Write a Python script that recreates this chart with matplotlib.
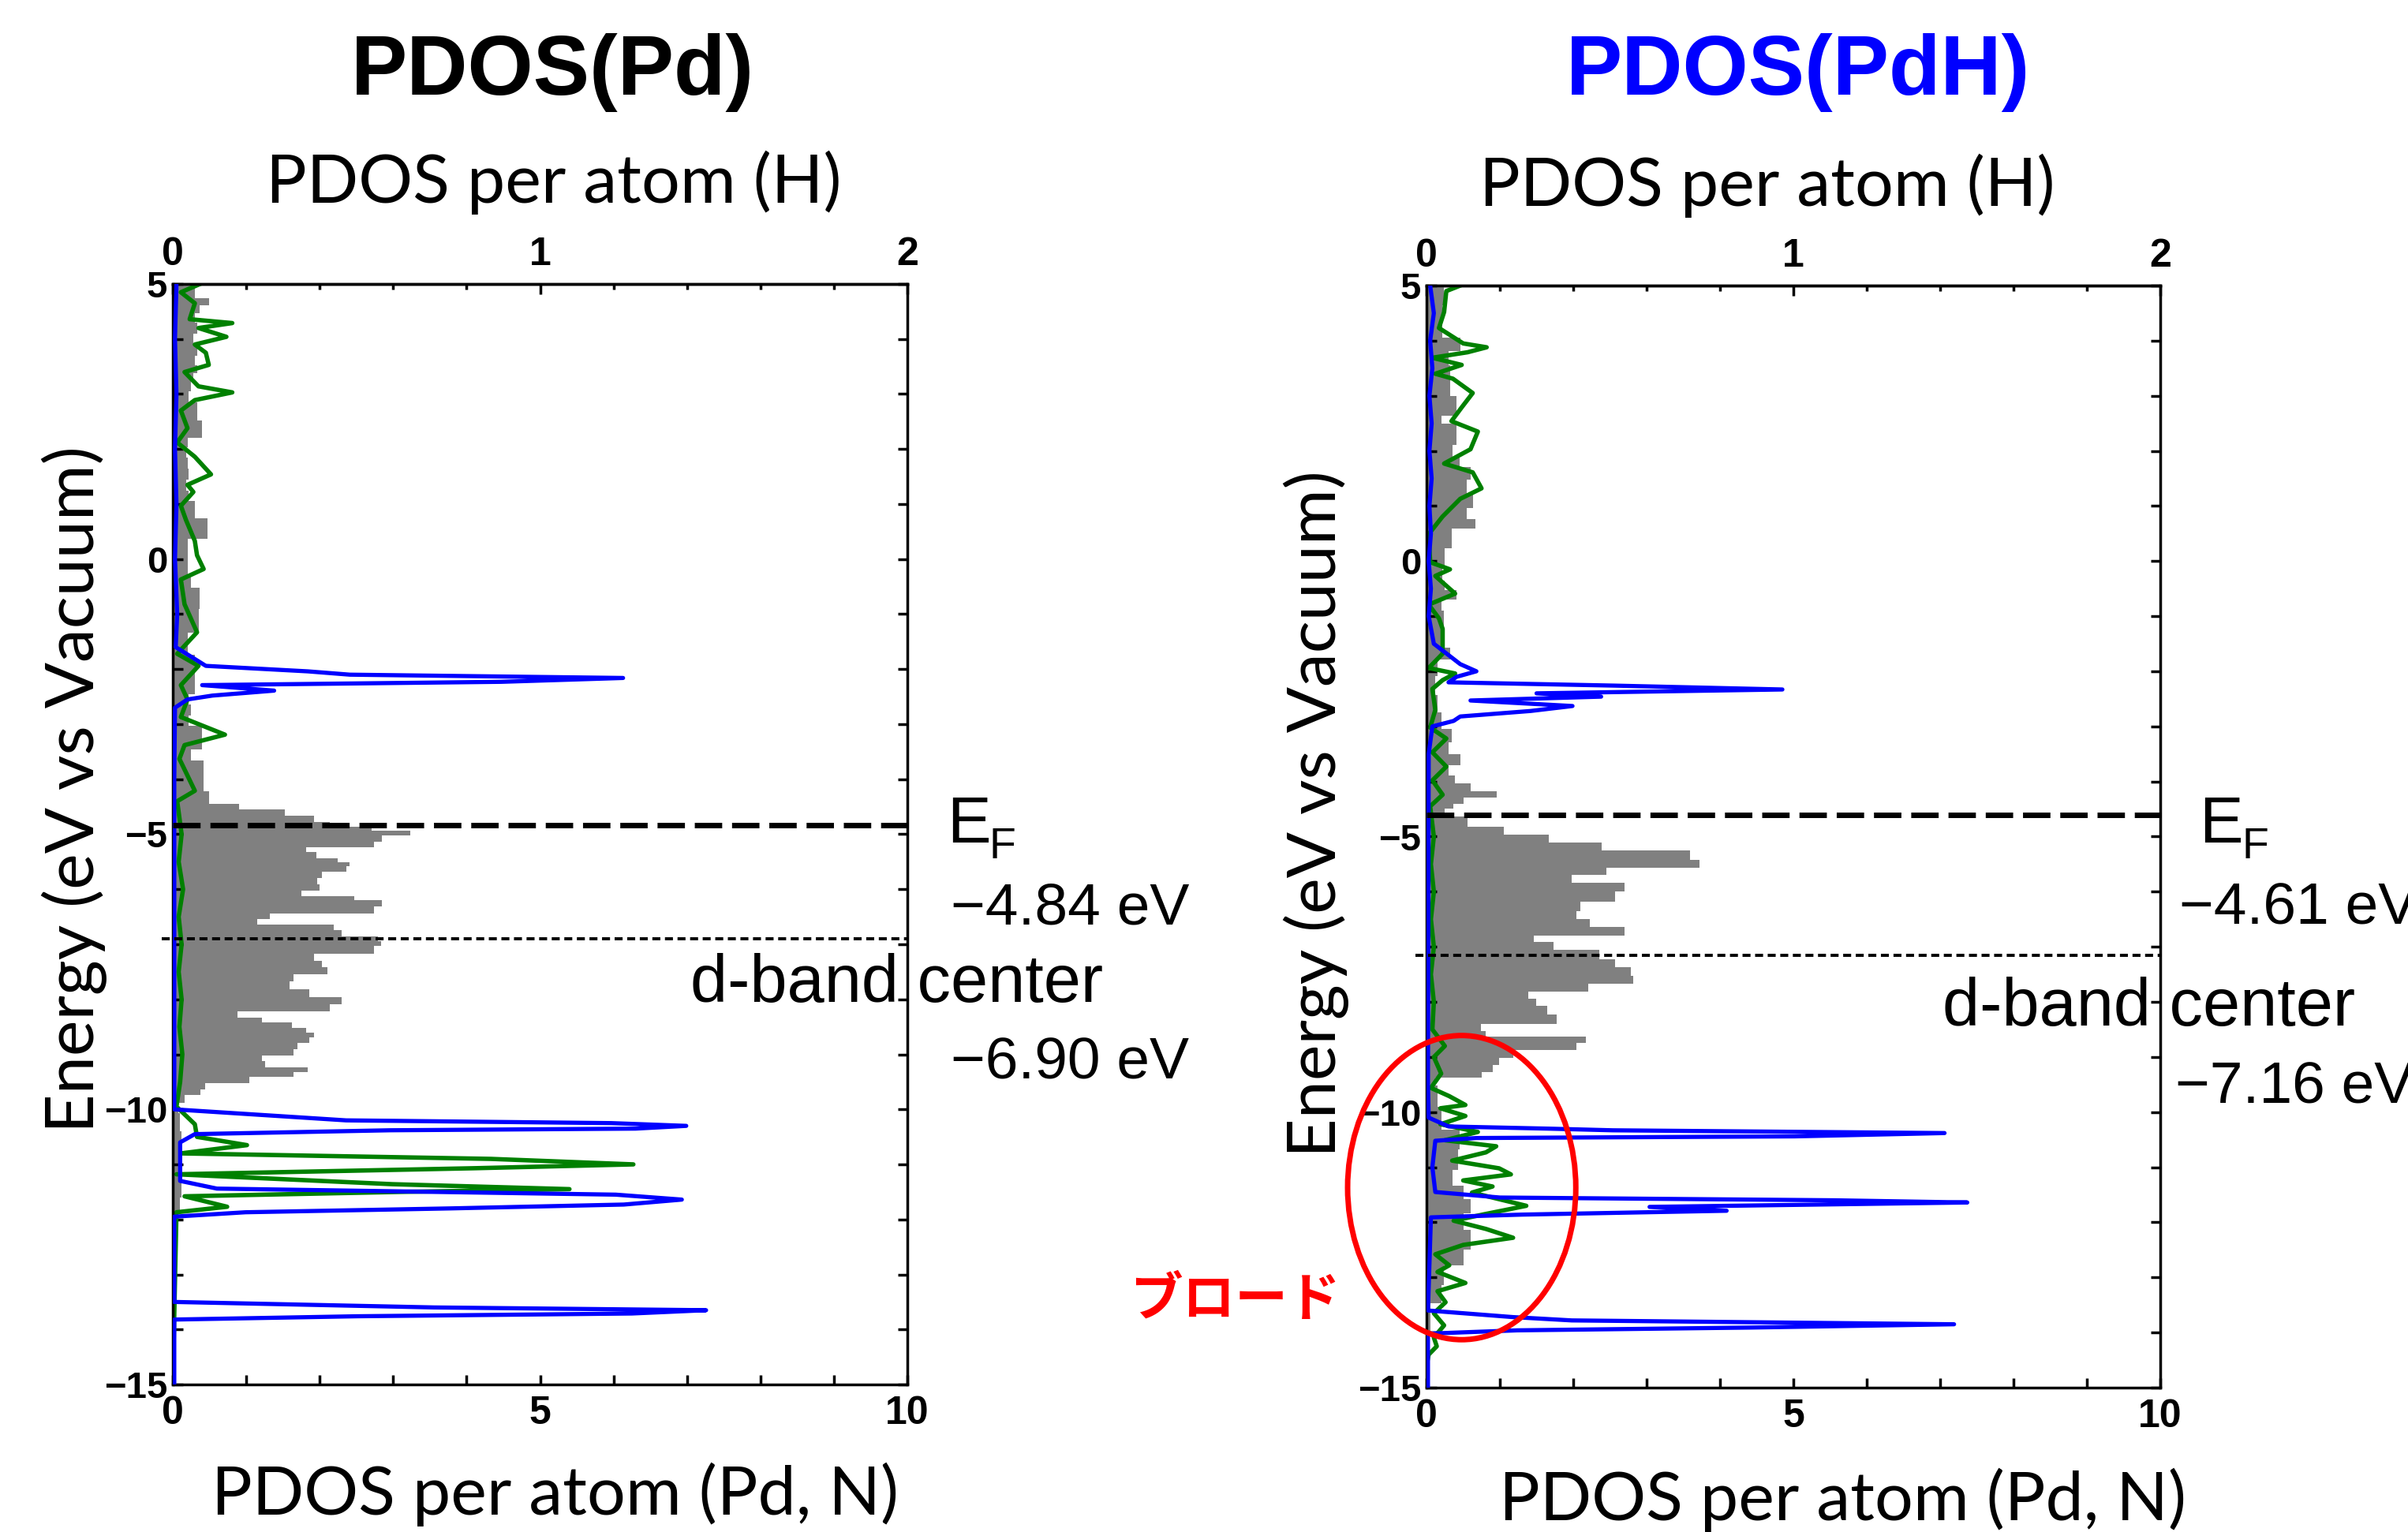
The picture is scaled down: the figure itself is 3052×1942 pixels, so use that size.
import numpy as np
import matplotlib
matplotlib.use('Agg')
import matplotlib.pyplot as plt
from matplotlib.patches import Ellipse
from matplotlib.ticker import MultipleLocator

plt.rcParams['font.family'] = ['Liberation Sans', 'DejaVu Sans']

W, H = 3052, 1942

# ---- Pd panel: (energy eV, PDOS) ----
pd_gray = [(5.0, 0.3), (4.8, 0.3), (4.68, 0.49), (4.55, 0.37), (4.4, 0.3), (4.2, 0.33), (4.0, 0.28),
           (3.8, 0.33), (3.6, 0.3), (3.46, 0.33), (3.3, 0.28), (3.14, 0.25), (2.95, 0.22), (2.76, 0.33),
           (2.6, 0.33), (2.45, 0.4), (2.3, 0.4), (2.12, 0.2), (1.95, 0.18), (1.74, 0.2), (1.55, 0.22),
           (1.35, 0.18), (1.15, 0.22), (0.97, 0.3), (0.84, 0.3), (0.65, 0.47), (0.46, 0.47), (0.27, 0.2),
           (0.0, 0.2), (-0.18, 0.2), (-0.4, 0.25), (-0.63, 0.37), (-0.82, 0.37), (-1.0, 0.35), (-1.27, 0.35),
           (-1.4, 0.2), (-1.65, 0.2), (-1.84, 0.3), (-2.1, 0.3), (-2.35, 0.3), (-2.55, 0.22), (-2.74, 0.25),
           (-2.95, 0.22), (-3.12, 0.4), (-3.38, 0.4), (-3.55, 0.25), (-3.76, 0.42), (-4.15, 0.42), (-4.3, 0.49),
           (-4.39, 0.49), (-4.5, 0.9), (-4.61, 1.53), (-4.72, 1.92), (-4.83, 2.14), (-4.9, 2.71), (-4.97, 3.23),
           (-5.08, 2.85), (-5.19, 2.74), (-5.27, 1.81), (-5.38, 1.95), (-5.49, 2.25), (-5.52, 2.41),
           (-5.63, 2.36), (-5.74, 2.03), (-5.85, 1.97), (-5.96, 2.0), (-6.1, 1.75), (-6.14, 2.47), (-6.25, 2.85),
           (-6.36, 2.74), (-6.51, 1.32), (-6.58, 1.15), (-6.69, 2.19), (-6.8, 2.3), (-6.91, 2.79), (-6.98, 2.84),
           (-7.09, 2.74), (-7.24, 1.92), (-7.35, 2.03), (-7.49, 2.11), (-7.6, 1.64), (-7.75, 1.59), (-7.89, 1.86),
           (-8.04, 2.3), (-8.15, 2.14), (-8.3, 0.88), (-8.37, 1.21), (-8.48, 1.62), (-8.55, 1.81), (-8.66, 1.92),
           (-8.73, 1.86), (-8.85, 1.7), (-8.96, 1.64), (-9.07, 1.21), (-9.18, 1.26), (-9.29, 1.84), (-9.36, 1.64),
           (-9.47, 1.04), (-9.58, 0.44), (-9.69, 0.38), (-9.8, 0.16), (-9.95, 0.08), (-10.2, 0.1), (-10.6, 0.12),
           (-11.0, 0.1), (-11.4, 0.12), (-11.8, 0.1), (-12.0, 0.02), (-15.0, 0.0)]

pd_green = [(5.0, 0.37), (4.85, 0.11), (4.65, 0.3), (4.36, 0.23), (4.29, 0.81), (4.2, 0.35), (4.04, 0.73),
            (3.9, 0.3), (3.75, 0.45), (3.53, 0.49), (3.4, 0.16), (3.14, 0.35), (3.03, 0.81), (2.89, 0.3),
            (2.7, 0.11), (2.38, 0.2), (2.12, 0.06), (1.86, 0.3), (1.54, 0.52), (1.35, 0.2), (1.22, 0.28),
            (0.97, 0.11), (0.71, 0.18), (0.33, 0.3), (0.07, 0.33), (-0.18, 0.42), (-0.37, 0.11), (-0.82, 0.16),
            (-1.33, 0.33), (-1.72, 0.06), (-1.94, 0.35), (-2.29, 0.11), (-2.55, 0.2), (-2.87, 0.11), (-3.19, 0.71),
            (-3.38, 0.16), (-3.63, 0.09), (-4.21, 0.3), (-4.4, 0.06), (-4.6, 0.08), (-5.0, 0.12), (-5.5, 0.08),
            (-6.0, 0.14), (-6.5, 0.08), (-7.0, 0.12), (-7.5, 0.08), (-8.0, 0.12), (-8.5, 0.09), (-9.0, 0.13),
            (-9.5, 0.1), (-9.95, 0.05), (-10.27, 0.3), (-10.5, 0.33), (-10.65, 1.01), (-10.8, 0.11), (-10.9, 4.33),
            (-11.0, 6.27), (-11.07, 4.1), (-11.18, 0.05), (-11.36, 2.99), (-11.45, 5.4), (-11.5, 3.1),
            (-11.58, 0.16), (-11.77, 0.74), (-11.87, 0.05), (-15.0, 0.0)]

pd_blue = [(5.0, 0.05), (4.0, 0.03), (3.0, 0.05), (2.0, 0.03), (1.0, 0.05), (0.0, 0.03), (-1.0, 0.06),
           (-1.6, 0.04), (-1.94, 0.45), (-2.04, 1.84), (-2.1, 2.41), (-2.16, 6.13), (-2.23, 4.47), (-2.29, 0.4),
           (-2.39, 1.38), (-2.48, 0.54), (-2.55, 0.2), (-2.7, 0.03), (-4.0, 0.02), (-10.0, 0.02), (-10.2, 2.36),
           (-10.25, 5.97), (-10.3, 6.99), (-10.35, 6.3), (-10.38, 2.96), (-10.45, 0.3), (-10.6, 0.1),
           (-11.3, 0.1), (-11.44, 0.6), (-11.55, 6.03), (-11.64, 6.93), (-11.73, 6.14), (-11.8, 3.78),
           (-11.87, 0.99), (-11.95, 0.02), (-13.5, 0.02), (-13.6, 3.56), (-13.65, 7.26), (-13.71, 6.25),
           (-13.76, 2.52), (-13.82, 0.02), (-15.0, 0.02)]

# ---- PdH panel ----
pdh_gray = [(5.0, 0.24), (4.78, 0.24), (4.5, 0.22), (4.1, 0.22), (4.01, 0.46), (3.88, 0.46), (3.75, 0.3),
            (3.37, 0.32), (3.1, 0.32), (2.9, 0.41), (2.73, 0.41), (2.54, 0.2), (2.45, 0.41), (2.22, 0.41),
            (2.0, 0.35), (1.8, 0.45), (1.61, 0.6), (1.35, 0.55), (1.07, 0.63), (0.85, 0.55), (0.68, 0.67),
            (0.5, 0.34), (0.36, 0.34), (0.1, 0.25), (-0.27, 0.22), (-0.45, 0.25), (-0.59, 0.41), (-0.8, 0.2),
            (-1.0, 0.24), (-1.23, 0.24), (-1.45, 0.2), (-1.68, 0.32), (-1.9, 0.15), (-2.26, 0.12), (-2.6, 0.15),
            (-2.9, 0.2), (-3.18, 0.34), (-3.4, 0.3), (-3.6, 0.46), (-3.8, 0.3), (-3.98, 0.39), (-4.1, 0.6),
            (-4.24, 0.96), (-4.35, 0.5), (-4.45, 0.37), (-4.53, 0.25), (-4.74, 0.56), (-4.89, 1.05),
            (-5.04, 1.67), (-5.18, 2.39), (-5.33, 3.59), (-5.51, 3.72), (-5.62, 2.45), (-5.77, 1.98),
            (-5.91, 2.7), (-6.09, 2.57), (-6.28, 2.1), (-6.42, 2.04), (-6.57, 2.23), (-6.72, 2.7), (-6.86, 1.46),
            (-6.97, 1.73), (-7.15, 2.35), (-7.3, 2.57), (-7.45, 2.79), (-7.59, 2.82), (-7.74, 2.2), (-7.88, 1.39),
            (-7.99, 1.49), (-8.14, 1.64), (-8.32, 1.77), (-8.47, 0.74), (-8.58, 0.81), (-8.69, 2.17), (-8.8, 2.04),
            (-8.94, 1.18), (-9.09, 0.99), (-9.2, 0.9), (-9.34, 0.75), (-9.42, 0.12), (-9.6, 0.15), (-10.2, 0.2),
            (-10.45, 0.45), (-10.9, 0.43), (-11.2, 0.35), (-11.46, 0.5), (-11.7, 0.6), (-11.96, 0.5),
            (-12.3, 0.6), (-12.7, 0.5), (-12.85, 0.24), (-13.43, 0.2), (-13.5, 0.05), (-14.5, 0.02), (-15.0, 0.0)]

pdh_green = [(5.0, 0.46), (4.9, 0.27), (4.52, 0.24), (4.23, 0.17), (3.95, 0.5), (3.88, 0.82), (3.79, 0.56),
             (3.69, 0.08), (3.56, 0.48), (3.4, 0.12), (3.31, 0.36), (3.05, 0.63), (2.79, 0.48), (2.54, 0.34),
             (2.35, 0.7), (2.03, 0.6), (1.77, 0.24), (1.61, 0.63), (1.32, 0.75), (1.13, 0.46), (0.81, 0.22),
             (0.49, 0.03), (-0.02, 0.05), (-0.15, 0.32), (-0.27, 0.12), (-0.59, 0.39), (-0.79, 0.03),
             (-1.04, 0.17), (-1.23, 0.22), (-1.68, 0.22), (-1.94, 0.03), (-2.04, 0.39), (-2.16, 0.22),
             (-2.32, 0.08), (-2.7, 0.12), (-3.02, 0.05), (-3.22, 0.27), (-3.47, 0.08), (-3.73, 0.27),
             (-3.98, 0.08), (-4.24, 0.22), (-4.45, 0.05), (-5.0, 0.1), (-5.5, 0.06), (-6.0, 0.1), (-6.5, 0.06),
             (-7.0, 0.1), (-7.5, 0.06), (-8.0, 0.1), (-8.5, 0.08), (-8.8, 0.25), (-9.0, 0.1), (-9.3, 0.2),
             (-9.56, 0.06), (-9.71, 0.31), (-9.87, 0.53), (-9.93, 0.19), (-10.07, 0.53), (-10.22, 0.19),
             (-10.36, 0.7), (-10.51, 0.25), (-10.62, 0.95), (-10.73, 0.81), (-10.88, 0.35), (-11.02, 0.99),
             (-11.13, 1.15), (-11.24, 0.5), (-11.35, 0.9), (-11.46, 0.62), (-11.7, 1.36), (-11.85, 0.8),
             (-11.97, 0.37), (-12.12, 0.81), (-12.28, 1.18), (-12.41, 0.5), (-12.58, 0.12), (-12.78, 0.31),
             (-12.9, 0.15), (-13.1, 0.53), (-13.25, 0.15), (-13.45, 0.26), (-13.65, 0.1), (-13.87, 0.24),
             (-14.09, 0.1), (-14.25, 0.14), (-14.4, 0.03), (-14.6, 0.0), (-15.0, 0.0)]

pdh_blue = [(5.0, 0.05), (4.5, 0.1), (4.0, 0.05), (3.5, 0.08), (3.0, 0.04), (2.5, 0.07), (2.0, 0.04),
            (1.5, 0.07), (1.0, 0.04), (0.5, 0.06), (0.0, 0.03), (-0.5, 0.06), (-1.0, 0.03), (-1.5, 0.1),
            (-1.87, 0.46), (-2.0, 0.68), (-2.1, 0.41), (-2.2, 0.3), (-2.26, 2.57), (-2.33, 4.85), (-2.4, 1.5),
            (-2.46, 2.38), (-2.53, 0.6), (-2.63, 1.99), (-2.72, 1.42), (-2.82, 0.46), (-2.9, 0.37), (-3.0, 0.08),
            (-3.5, 0.03), (-9.5, 0.02), (-10.1, 0.03), (-10.26, 0.3), (-10.3, 1.67), (-10.33, 2.54),
            (-10.38, 7.06), (-10.44, 5.02), (-10.47, 0.68), (-10.52, 0.12), (-11.0, 0.08), (-11.45, 0.12),
            (-11.55, 1.0), (-11.6, 5.55), (-11.64, 7.37), (-11.72, 3.04), (-11.79, 4.09), (-11.86, 1.3),
            (-11.91, 0.06), (-13.6, 0.02), (-13.72, 1.18), (-13.78, 1.98), (-13.85, 7.19), (-13.91, 4.4),
            (-13.96, 1.24), (-14.02, 0.02), (-15.0, 0.02)]

pd_fermi, pd_dband = -4.84, -6.90
pdh_fermi, pdh_dband = -4.61, -7.16


def px(x, y):
    return x / W, 1 - y / H


def draw_panel(ax, gray, green, blue, e_fermi, e_dband):
    g = np.array(gray)
    ax.fill_betweenx(g[:, 0], 0, g[:, 1], step='mid', color='#808080', lw=0, zorder=1)
    gr = np.array(green)
    ax.plot(gr[:, 1], gr[:, 0], color='#008000', lw=4.0, zorder=2)
    b = np.array(blue)
    ax.plot(b[:, 1], b[:, 0], color='#0000FF', lw=3.8, zorder=3)

    ax.plot([0, 10], [e_fermi, e_fermi], color='black', lw=5, dashes=(5, 1.8), zorder=4, clip_on=False)
    ax.plot([-0.15, 10], [e_dband, e_dband], color='black', lw=2.8, dashes=(2.6, 1.5), zorder=4,
            clip_on=False)

    ax.set_xlim(0, 10)
    ax.set_ylim(-15, 5)
    ax.xaxis.set_major_locator(MultipleLocator(5))
    ax.xaxis.set_minor_locator(MultipleLocator(1))
    ax.yaxis.set_major_locator(MultipleLocator(5))
    ax.yaxis.set_minor_locator(MultipleLocator(1))
    ax.tick_params(which='both', direction='in', right=True, top=False, length=9, width=2.5)
    ax.tick_params(axis='x', labelsize=36, pad=10)
    ax.tick_params(axis='y', labelsize=34, pad=5)
    for lab in ax.get_xticklabels() + ax.get_yticklabels():
        lab.set_fontweight('bold')
    for sp in ax.spines.values():
        sp.set_linewidth(2.5)

    top = ax.secondary_xaxis('top', functions=(lambda x: x / 5, lambda x: x * 5))
    top.set_xticks([0, 1, 2])
    top.xaxis.set_minor_locator(MultipleLocator(0.2))
    top.tick_params(which='major', direction='in', length=9, width=2.5, labelsize=36, pad=10)
    top.tick_params(which='minor', direction='in', length=5, width=2.5)
    top.spines['top'].set_linewidth(2.5)
    for lab in top.get_xticklabels():
        lab.set_fontweight('bold')


fig = plt.figure(figsize=(W / 100, H / 100), dpi=100)
ax1 = fig.add_axes([219 / W, 1 - 1755 / H, 931 / W, 1395 / H])
ax2 = fig.add_axes([1808 / W, 1 - 1759 / H, 930 / W, 1397 / H])

draw_panel(ax1, pd_gray, pd_green, pd_blue, pd_fermi, pd_dband)
draw_panel(ax2, pdh_gray, pdh_green, pdh_blue, pdh_fermi, pdh_dband)

# red circle marking the broadened H states
ax2.add_patch(Ellipse((0.48, -11.37), 3.11, 5.52, fill=False, ec='#FF0000', lw=5, clip_on=False, zorder=5))

label_font = 'Lato'
fig.text(*px(700, 120), 'PDOS(Pd)', ha='center', va='baseline', fontsize=77, fontweight='bold')
fig.text(*px(2279, 120), 'PDOS(PdH)', ha='center', va='baseline', fontsize=77, fontweight='bold',
         color='#0000FF')
fig.text(*px(702, 257), 'PDOS per atom (H)', ha='center', va='baseline', fontsize=62, family=label_font)
fig.text(*px(2240, 261), 'PDOS per atom (H)', ha='center', va='baseline', fontsize=62, family=label_font)
fig.text(*px(704, 1920), 'PDOS per atom (Pd, N)', ha='center', va='baseline', fontsize=62, family=label_font)
fig.text(*px(2336, 1927), 'PDOS per atom (Pd, N)', ha='center', va='baseline', fontsize=62,
         family=label_font)
fig.text(*px(94, 1001), 'Energy (eV vs Vacuum)', rotation=90, ha='center', va='center', fontsize=62,
         family=label_font)
fig.text(*px(1668, 1032), 'Energy (eV vs Vacuum)', rotation=90, ha='center', va='center', fontsize=62,
         family=label_font)

# Fermi level and d-band center notes
for ex, ax_left, dx, dy, ef_txt, db_txt in [(1200, 1205, 875, 1270, '\u22124.84 eV', '\u22126.90 eV'),
                                             (2787, 2762, 2462, 1300, '\u22124.61 eV', '\u22127.16 eV')]:
    fig.text(*px(ex, 1068), 'E', ha='left', va='baseline', fontsize=60)
    fig.text(*px(ex + 54, 1088), 'F', ha='left', va='baseline', fontsize=40)
    fig.text(*px(ax_left, 1172), ef_txt, ha='left', va='baseline', fontsize=54)
    fig.text(*px(dx, dy), 'd-band center', ha='left', va='baseline', fontsize=61)
    fig.text(*px(ax_left - (5 if ex > 2000 else 0), dy + 98), db_txt, ha='left', va='baseline', fontsize=54)

fig.text(*px(1565, 1648), 'ブロード', ha='center', va='center', fontsize=48, fontweight='bold',
         color='#FF0000', family=['Noto Sans CJK JP', 'DejaVu Sans'])

fig.savefig('out.png', dpi=100)
